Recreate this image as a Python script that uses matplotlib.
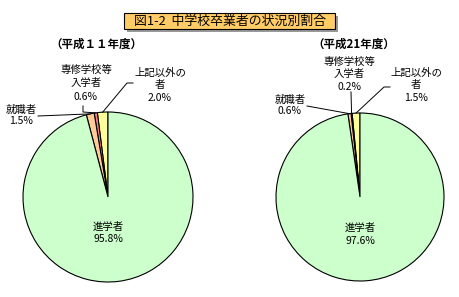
import matplotlib
matplotlib.use('Agg')
import matplotlib.pyplot as plt
from matplotlib.patches import Rectangle
import numpy as np

plt.rcParams['font.family'] = ['Noto Sans CJK JP', 'DejaVu Sans']

# ---------------- data ----------------
title = '図1-2  中学校卒業者の状況別割合'
years = ['（平成１１年度）', '（平成21年度）']
categories = ['上記以外の\n者', '専修学校等\n入学者', '就職者', '進学者']
values_h11 = [2.0, 0.6, 1.5, 95.8]
values_h21 = [1.5, 0.2, 0.6, 97.6]
colors = ['#FFFF99', '#FF8080', '#FFCC99', '#CCFFCC']

W, H = 459, 297
fig = plt.figure(figsize=(W / 100, H / 100), dpi=100)
fig.patch.set_facecolor('white')

# pie layout (pixel centre, radius)
pies = [
    dict(values=values_h11, cx=108, cy=197, r=85, year=years[0], ycx=96,
         main=(108, 227, 239),
         labels=[(160, [73, 85, 98]), (86, [70, 83, 97]), (21, [110, 121])],
         leaders=[[(133, 83), (127, 83)], [(83, 106), (83, 112)], [(38, 116)]]),
    dict(values=values_h21, cx=360, cy=197, r=84, year=years[1], ycx=354,
         main=(360, 228, 241),
         labels=[(416, [73, 85, 98]), (349, [62, 74, 87]), (290, [100, 111])],
         leaders=[[(390, 87), (384, 87)], [(351, 92)], [(307, 106)]]),
]

for p in pies:
    ax = fig.add_axes([(p['cx'] - p['r']) / W, (H - p['cy'] - p['r']) / H,
                       2 * p['r'] / W, 2 * p['r'] / H])
    ax.pie(p['values'], colors=colors, startangle=90, counterclock=True,
           wedgeprops=dict(edgecolor='black', linewidth=0.8))
    ax.set_xlim(-1, 1)
    ax.set_ylim(-1, 1)
    ax.axis('off')

# overlay axes in pixel coordinates
ov = fig.add_axes([0, 0, 1, 1], facecolor='none')
ov.set_xlim(0, W)
ov.set_ylim(H, 0)
ov.axis('off')

# title box with shadow
bx0, by0, bx1, by1 = 124, 13, 335, 29
ov.add_patch(Rectangle((bx0 + 3, by0 + 3), bx1 - bx0, by1 - by0,
                       facecolor='#999999', edgecolor='none', zorder=1))
ov.add_patch(Rectangle((bx0, by0), bx1 - bx0, by1 - by0,
                       facecolor='#FFCC66', edgecolor='black', linewidth=0.8, zorder=2))
ov.text((bx0 + bx1) / 2, (by0 + by1) / 2 + 0.5, title, ha='center', va='center',
        fontsize=9.3, zorder=3)

fs = 7.5
for p in pies:
    vals = p['values']
    total = sum(vals)
    ov.text(p['ycx'], 44, p['year'], ha='center', va='center',
            fontsize=8.3, fontweight='bold')
    # main slice label
    mx, my1, my2 = p['main']
    ov.text(mx, my1, categories[3], ha='center', va='center', fontsize=fs)
    ov.text(mx, my2, f'{vals[3]:.1f}%', ha='center', va='center', fontsize=fs)
    # small slices
    cum = 0.0
    for i in range(3):
        frac = vals[i] / total
        mid = 90 + 360 * (cum + frac / 2)
        cum += frac
        ex = p['cx'] + p['r'] * np.cos(np.radians(mid))
        ey = p['cy'] - p['r'] * np.sin(np.radians(mid))
        lx, ys = p['labels'][i]
        lines = categories[i].split('\n') + [f'{vals[i]:.1f}%']
        for t, yy in zip(lines, ys):
            ov.text(lx, yy, t, ha='center', va='center', fontsize=fs)
        pts = p['leaders'][i] + [(ex, ey)]
        xs = [q[0] for q in pts]
        yv = [q[1] for q in pts]
        ov.plot(xs, yv, color='black', linewidth=0.7, zorder=5)

fig.savefig('out.png', dpi=100, facecolor='white')
